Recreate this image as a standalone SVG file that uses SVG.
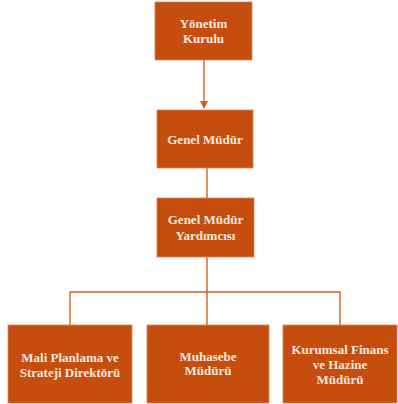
<svg xmlns="http://www.w3.org/2000/svg" width="398" height="404" viewBox="0 0 398 404">
<style>
.box{fill:#C54E0E;stroke:#D9825A;stroke-width:0.8}
.t{font-family:"Liberation Serif","Times New Roman",serif;font-size:13px;font-weight:bold;fill:#F7E8DE;text-anchor:middle}
.ln{stroke:#D2621F;stroke-width:1.4;fill:none}
</style>
<defs>
<marker id="ah" markerWidth="8" markerHeight="8" refX="7" refY="4" orient="auto" markerUnits="userSpaceOnUse">
<path d="M0,0 L8,4 L0,8 Z" fill="#D2621F"/>
</marker>
</defs>
<rect width="398" height="404" fill="#FFFFFF"/>
<g id="connectors">
<line class="ln" x1="204" y1="60" x2="204" y2="108" marker-end="url(#ah)"/>
<line class="ln" x1="207" y1="168" x2="207" y2="198"/>
<line class="ln" x1="207" y1="257" x2="207" y2="325"/>
<polyline class="ln" points="70,325 70,292 340,292 340,325"/>
</g>
<g id="n1"><rect class="box" x="155" y="2" width="97" height="58"/>
<text class="t" x="203.5" y="28">Yönetim</text><text class="t" x="203.5" y="43">Kurulu</text></g>
<g id="n2"><rect class="box" x="157" y="110" width="96" height="58"/>
<text class="t" x="205" y="144">Genel Müdür</text></g>
<g id="n3"><rect class="box" x="157" y="198" width="97" height="59"/>
<text class="t" x="205.5" y="224">Genel Müdür</text><text class="t" x="205.5" y="240">Yardımcısı</text></g>
<g id="n4"><rect class="box" x="8" y="325" width="124" height="78"/>
<text class="t" x="70" y="362">Mali Planlama ve</text><text class="t" x="70" y="377">Strateji Direktörü</text></g>
<g id="n5"><rect class="box" x="147" y="325" width="122" height="78"/>
<text class="t" x="208" y="361">Muhasebe</text><text class="t" x="208" y="375">Müdürü</text></g>
<g id="n6"><rect class="box" x="283" y="325" width="114" height="78"/>
<text class="t" x="340" y="354">Kurumsal Finans</text><text class="t" x="340" y="369">ve Hazine</text><text class="t" x="340" y="384">Müdürü</text></g>
</svg>
